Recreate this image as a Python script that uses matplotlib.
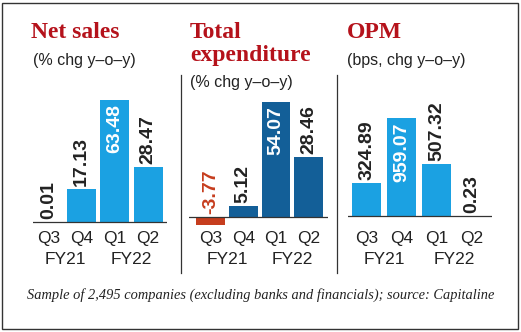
import matplotlib
matplotlib.use("Agg")
import matplotlib.pyplot as plt
from matplotlib.lines import Line2D
from matplotlib.patches import Rectangle
from matplotlib.transforms import blended_transform_factory

quarters = ["Q3", "Q4", "Q1", "Q2"]
years = ["FY21", "FY22"]

net_sales = [0.01, 17.13, 63.48, 28.47]
total_exp = [-3.77, 5.12, 54.07, 28.46]
opm = [324.89, 959.07, 507.32, 0.23]

LIGHT_BLUE = "#1ba1e2"
DARK_BLUE = "#135f98"
NEG_RED = "#c63d1e"
TITLE_RED = "#b5121b"
TEXT = "#222222"

W, H = 521, 332
fig = plt.figure(figsize=(W / 100, H / 100), dpi=100)


def px_axes(x0, x1, base, scale, y0=70, y1=229):
    # axes placed in pixel coords, zero line at `base`, `scale` pixels per unit
    ax = fig.add_axes([x0 / W, 1 - y1 / H, (x1 - x0) / W, (y1 - y0) / H])
    ax.set_ylim(-(y1 - base) / scale, (base - y0) / scale)
    for s in ax.spines.values():
        s.set_visible(False)
    ax.set_yticks([])
    ax.patch.set_alpha(0)
    return ax


def panel(ax, values, color, xlim, width, scale, inside_idx):
    ax.set_xlim(*xlim)
    cols = [NEG_RED if v < 0 else color for v in values]
    ax.bar(range(4), values, width=width, color=cols, zorder=2)
    ax.axhline(0, color="#333333", lw=0.9, zorder=3)
    ax.set_xticks(range(4))
    ax.set_xticklabels(quarters, fontsize=12.5, family="Liberation Sans", color=TEXT)
    ax.tick_params(axis="x", length=0, pad=1.5)
    for i, v in enumerate(values):
        if i == inside_idx:
            ax.text(i, v - 4 / scale, f"{v:.2f}", rotation=90, ha="center", va="top",
                    color="white", fontsize=14, fontweight="bold", family="Liberation Sans")
        else:
            lab_col = NEG_RED if v < 0 else TEXT
            ax.text(i, max(v, 0) + 3 / scale, f"{v:.2f}", rotation=90, ha="center",
                    va="bottom", color=lab_col, fontsize=14, fontweight="bold",
                    family="Liberation Sans")
    # fiscal year row under the quarter labels
    tr = blended_transform_factory(ax.transData, fig.transFigure)
    for j, yr in enumerate(years):
        ax.text(0.5 + 2 * j, 1 - 260 / H, yr, transform=tr, ha="center",
                va="center", fontsize=12.5, family="Liberation Sans", color=TEXT)


# left to right: net sales, total expenditure, OPM
ax1 = px_axes(33, 167, 222, 1.92)
panel(ax1, net_sales, LIGHT_BLUE, (-0.46, 3.57), 0.87, 1.92, 2)

ax2 = px_axes(189, 328, 217, 2.12)
panel(ax2, total_exp, DARK_BLUE, (-0.66, 3.59), 0.88, 2.12, 2)

ax3 = px_axes(348, 492, 216, 0.102)
panel(ax3, opm, LIGHT_BLUE, (-0.53, 3.59), 0.83, 0.102, 1)


def ftext(x, y, s, **kw):
    fig.text(x / W, 1 - y / H, s, **kw)


title_kw = dict(family="Liberation Serif", fontweight="bold", color=TITLE_RED,
                fontsize=17, va="center", ha="left")
sub_kw = dict(family="Liberation Sans", color=TEXT, fontsize=11.5, va="center", ha="left")

ftext(31, 33, "Net sales", **title_kw)
ftext(33, 60, "(% chg y–o–y)", **sub_kw)
ftext(190, 32, "Total", **title_kw)
ftext(190, 56, "expenditure", **title_kw)
ftext(190, 82, "(% chg y–o–y)", **sub_kw)
ftext(347, 33, "OPM", **title_kw)
ftext(347, 60, "(bps, chg y–o–y)", **sub_kw)

ftext(261, 295, "Sample of 2,495 companies (excluding banks and financials); source: Capitaline",
      family="Liberation Serif", style="italic", fontsize=10.4, color=TEXT,
      ha="center", va="center")

# panel separators and frame
for x in (181, 337):
    fig.add_artist(Line2D([x / W, x / W], [1 - 75 / H, 1 - 273 / H], color="#333333", lw=0.9))
fig.add_artist(Rectangle((2 / W, 3 / H), 516 / W, 326 / H, fill=False,
                         edgecolor="#333333", lw=1.0, transform=fig.transFigure))

fig.savefig("out.png", dpi=100)
